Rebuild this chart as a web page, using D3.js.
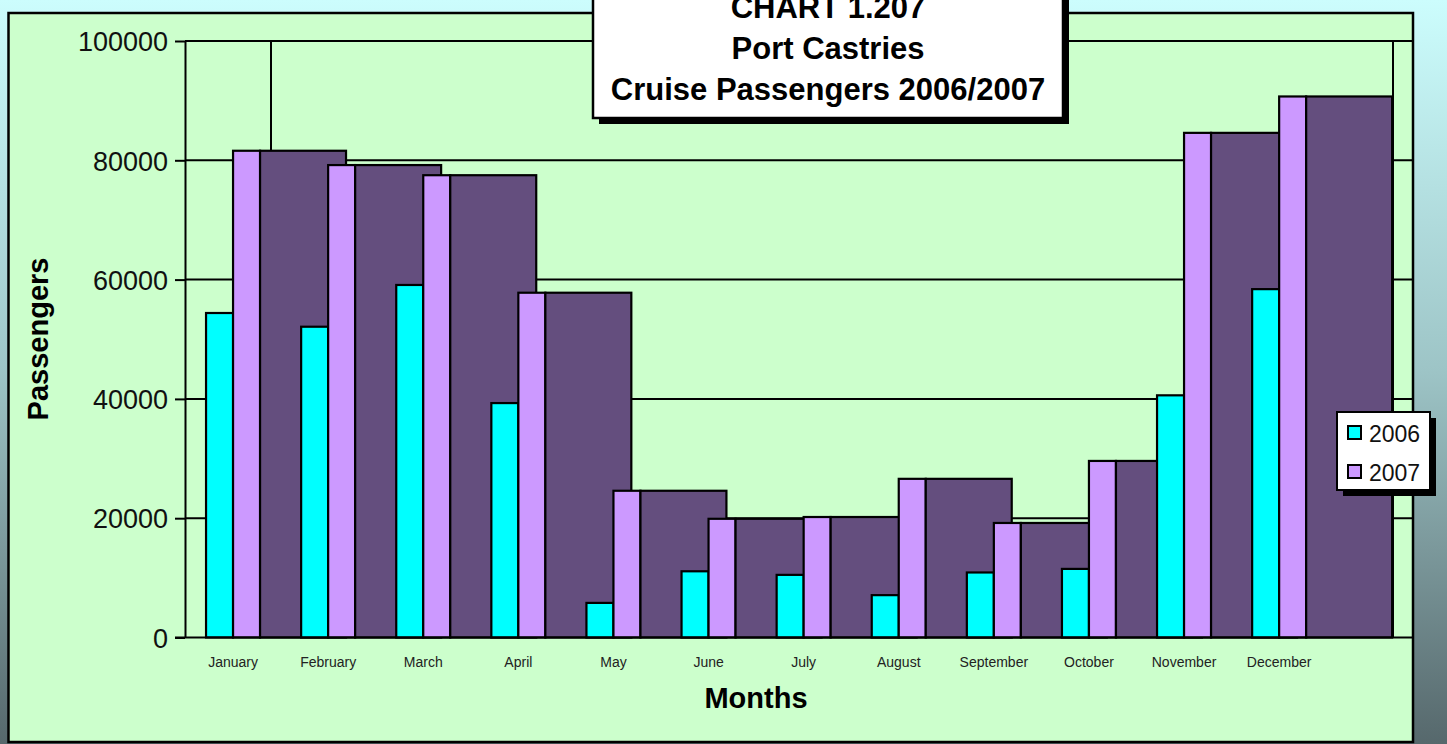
<!DOCTYPE html>
<html>
<head>
<meta charset="utf-8">
<title>Port Castries Cruise Passengers 2006/2007</title>
<script src="https://cdnjs.cloudflare.com/ajax/libs/d3/7.8.5/d3.min.js"></script>
<style>
  html, body { margin: 0; padding: 0; overflow: hidden; }
  svg { display: block; font-family: "Liberation Sans", Arial, sans-serif; }
</style>
</head>
<body>
<div id="chart"></div>
<script>
// chart data
var months = ["January", "February", "March", "April", "May", "June",
              "July", "August", "September", "October", "November", "December"];
var pax2006 = [54400, 52100, 59100, 39300, 5800, 11100, 10500, 7100, 10900, 11500, 40600, 58400];
var pax2007 = [81600, 79200, 77500, 57800, 24600, 19900, 20200, 26600, 19200, 29600, 84600, 90700];
var yTicks = [0, 20000, 40000, 60000, 80000, 100000];
var seriesNames = ["2006", "2007"];
var titleLines = ["CHART 1.207", "Port Castries", "Cruise Passengers 2006/2007"];

var W = 1447, H = 744;
var c2006 = "#00ffff", c2007 = "#cc99ff", cDepth = "#644e7e";

var svg = d3.select("#chart").append("svg")
  .attr("width", W).attr("height", H);

// background gradient
var defs = svg.append("defs");
var grad = defs.append("linearGradient").attr("id", "bg")
  .attr("x1", 0).attr("y1", 0).attr("x2", 0).attr("y2", 1);
grad.append("stop").attr("offset", "0%").attr("stop-color", "#ccfdfd");
grad.append("stop").attr("offset", "50%").attr("stop-color", "#9dc4c6");
grad.append("stop").attr("offset", "100%").attr("stop-color", "#56686c");
svg.append("rect").attr("width", W).attr("height", H).attr("fill", "url(#bg)");

// chart frame
svg.append("rect")
  .attr("x", 8.5).attr("y", 13).attr("width", 1404.5).attr("height", 729)
  .attr("fill", "#ccffcc").attr("stroke", "#000").attr("stroke-width", 2.5);

// scales
var y = d3.scaleLinear().domain([0, 100000]).range([637.5, 41]);
var x = d3.scaleBand().domain(months).range([185.5, 1326.7]).padding(0);
var step = x.step();
var barW = step * 0.284, depthW = step * 0.904;
var plotRight = 1413;

// gridlines
svg.append("g").selectAll("line").data(yTicks.slice(1)).enter().append("line")
  .attr("x1", 185).attr("x2", plotRight)
  .attr("y1", function(d) { return y(d); }).attr("y2", function(d) { return y(d); })
  .attr("stroke", "#000").attr("stroke-width", 2);

// back wall edges
svg.append("g").selectAll("line").data([271, 1393]).enter().append("line")
  .attr("x1", function(d) { return d; }).attr("x2", function(d) { return d; })
  .attr("y1", y(100000)).attr("y2", y(0))
  .attr("stroke", "#000").attr("stroke-width", 2);

// bars, month by month so later months overlap earlier depth blocks
var groups = svg.append("g").selectAll("g").data(months).enter().append("g")
  .attr("transform", function(d) { return "translate(" + (x(d) + step / 2) + ",0)"; });

groups.append("rect")
  .attr("x", -barW).attr("width", barW)
  .attr("y", function(d, i) { return y(pax2006[i]); })
  .attr("height", function(d, i) { return y(0) - y(pax2006[i]); })
  .attr("fill", c2006).attr("stroke", "#000").attr("stroke-width", 2.2);

groups.append("rect")
  .attr("x", 0).attr("width", barW)
  .attr("y", function(d, i) { return y(pax2007[i]); })
  .attr("height", function(d, i) { return y(0) - y(pax2007[i]); })
  .attr("fill", c2007).attr("stroke", "#000").attr("stroke-width", 2.2);

groups.append("rect")
  .attr("x", barW).attr("width", depthW)
  .attr("y", function(d, i) { return y(pax2007[i]); })
  .attr("height", function(d, i) { return y(0) - y(pax2007[i]); })
  .attr("fill", cDepth).attr("stroke", "#000").attr("stroke-width", 2.2);

// base line
svg.append("line")
  .attr("x1", 175).attr("x2", plotRight).attr("y1", y(0)).attr("y2", y(0))
  .attr("stroke", "#000").attr("stroke-width", 2.2);

// y axis
var yAxis = svg.append("g").attr("transform", "translate(185,0)")
  .call(d3.axisLeft(y).tickValues(yTicks).tickSize(10).tickSizeOuter(0).tickPadding(7)
    .tickFormat(function(d) { return d; }));
yAxis.selectAll("line").attr("stroke", "#000").attr("stroke-width", 2);
yAxis.select(".domain").attr("stroke", "#000").attr("stroke-width", 2);
yAxis.selectAll("text").attr("font-size", 27).attr("fill", "#111")
  .attr("font-family", "'Liberation Sans', Arial, sans-serif").attr("dy", "0.36em");

// x axis labels
var xAxis = svg.append("g").attr("transform", "translate(0," + y(0) + ")")
  .call(d3.axisBottom(x).tickSize(0).tickPadding(19.5));
xAxis.select(".domain").remove();
xAxis.selectAll("text").attr("font-size", 14).attr("fill", "#222")
  .attr("font-family", "'Liberation Sans', Arial, sans-serif");

// axis titles
svg.append("text").attr("x", 756).attr("y", 708)
  .attr("text-anchor", "middle").attr("font-size", 29).attr("font-weight", "bold")
  .text("Months");
svg.append("text").attr("transform", "translate(48,339) rotate(-90)")
  .attr("text-anchor", "middle").attr("font-size", 29).attr("font-weight", "bold")
  .text("Passengers");

// title box with shadow
var tb = { x: 593, y: -40, w: 470, h: 158 };
svg.append("rect").attr("x", tb.x + 6).attr("y", tb.y + 6)
  .attr("width", tb.w).attr("height", tb.h).attr("fill", "#000");
svg.append("rect").attr("x", tb.x).attr("y", tb.y)
  .attr("width", tb.w).attr("height", tb.h)
  .attr("fill", "#fff").attr("stroke", "#000").attr("stroke-width", 2.5);
svg.append("g").selectAll("text").data(titleLines).enter().append("text")
  .attr("x", tb.x + tb.w / 2)
  .attr("y", function(d, i) { return 18 + i * 41; })
  .attr("text-anchor", "middle").attr("font-size", 31).attr("font-weight", "bold")
  .text(function(d) { return d; });

// legend with shadow
var lg = { x: 1337, y: 412, w: 93, h: 78 };
svg.append("rect").attr("x", lg.x + 6).attr("y", lg.y + 6)
  .attr("width", lg.w).attr("height", lg.h).attr("fill", "#000");
svg.append("rect").attr("x", lg.x).attr("y", lg.y)
  .attr("width", lg.w).attr("height", lg.h)
  .attr("fill", "#fff").attr("stroke", "#000").attr("stroke-width", 2);
var items = svg.append("g").selectAll("g").data(seriesNames).enter().append("g")
  .attr("transform", function(d, i) { return "translate(" + (lg.x + 11) + "," + (lg.y + 14 + i * 39) + ")"; });
items.append("rect").attr("width", 13).attr("height", 13)
  .attr("fill", function(d, i) { return i === 0 ? c2006 : c2007; })
  .attr("stroke", "#000").attr("stroke-width", 2);
items.append("text").attr("x", 21).attr("y", 16)
  .attr("font-size", 23).attr("fill", "#111")
  .text(function(d) { return d; });
</script>
</body>
</html>
